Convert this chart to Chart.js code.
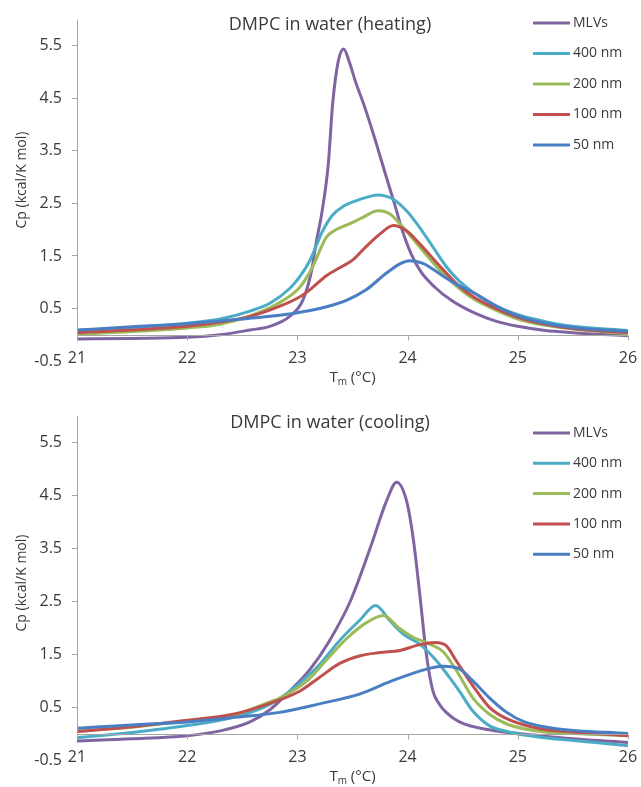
<!DOCTYPE html>
<html>
<head>
<meta charset="utf-8">
<script src="https://cdn.jsdelivr.net/npm/chart.js@4.4.0/dist/chart.umd.min.js"></script>
<style>
  body { margin: 0; background: #fff; }
  .box { width: 641px; position: relative; }
</style>
</head>
<body>
<div class="box" style="height:390px"><canvas id="heatChart" width="641" height="390"></canvas></div>
<div class="box" style="height:397px"><canvas id="coolChart" width="641" height="397"></canvas></div>
<script>
// =============================
// DATA
// =============================
const seriesNames = ["MLVs", "400 nm", "200 nm", "100 nm", "50 nm"];
const seriesColors = ["#8064A2", "#4BACC6", "#9BBB59", "#C0504D", "#4A7EC2"];
const xTickValues = [21, 22, 23, 24, 25, 26];
const yTickValues = [-0.5, 0.5, 1.5, 2.5, 3.5, 4.5, 5.5];

// heating
const heatMlvT  = [21, 21.5, 22, 22.3, 22.57, 22.75, 22.93, 23.05, 23.13, 23.17, 23.22, 23.28, 23.32, 23.37, 23.42, 23.47, 23.53, 23.6, 23.7, 23.8, 23.88, 23.95, 24.03, 24.12, 24.25, 24.4, 24.6, 24.8, 25, 25.25, 25.5, 26];
const heatMlvCp = [-0.08, -0.07, -0.05, 0.0, 0.09, 0.16, 0.35, 0.66, 1.23, 1.75, 2.3, 3.24, 4.4, 5.2, 5.44, 5.2, 4.8, 4.4, 3.75, 3.05, 2.5, 2.0, 1.55, 1.2, 0.9, 0.65, 0.42, 0.26, 0.16, 0.08, 0.04, -0.02];

const heat400T  = [21, 21.5, 22, 22.3, 22.57, 22.75, 22.93, 23.02, 23.11, 23.23, 23.32, 23.42, 23.53, 23.65, 23.73, 23.8, 23.87, 23.99, 24.11, 24.23, 24.35, 24.47, 24.6, 24.8, 25, 25.25, 25.5, 26];
const heat400Cp = [0.08, 0.14, 0.22, 0.3, 0.45, 0.6, 0.88, 1.1, 1.4, 1.98, 2.28, 2.45, 2.55, 2.63, 2.66, 2.64, 2.58, 2.36, 2.04, 1.67, 1.3, 1.02, 0.8, 0.55, 0.38, 0.25, 0.16, 0.08];

const heat200T  = [21, 21.5, 22, 22.3, 22.57, 22.81, 23.02, 23.14, 23.26, 23.35, 23.44, 23.59, 23.73, 23.84, 23.96, 24.11, 24.29, 24.47, 24.6, 24.8, 25, 25.25, 25.5, 26];
const heat200Cp = [0.01, 0.06, 0.13, 0.2, 0.36, 0.58, 0.9, 1.3, 1.85, 2.0, 2.08, 2.23, 2.36, 2.3, 2.04, 1.67, 1.23, 0.88, 0.68, 0.47, 0.3, 0.18, 0.11, 0.02];

const heat100T  = [21, 21.5, 22, 22.3, 22.57, 22.87, 23.02, 23.11, 23.26, 23.38, 23.5, 23.62, 23.75, 23.87, 23.99, 24.11, 24.26, 24.47, 24.6, 24.8, 25, 25.25, 25.5, 26];
const heat100Cp = [0.04, 0.09, 0.16, 0.24, 0.35, 0.57, 0.72, 0.85, 1.12, 1.27, 1.42, 1.67, 1.92, 2.08, 1.98, 1.73, 1.38, 0.92, 0.72, 0.5, 0.33, 0.2, 0.12, 0.04];

const heat50T  = [21, 21.5, 22, 22.45, 22.75, 23, 23.2, 23.44, 23.62, 23.8, 23.93, 24.02, 24.14, 24.32, 24.47, 24.6, 24.8, 25, 25.25, 25.5, 26];
const heat50Cp = [0.09, 0.15, 0.21, 0.29, 0.35, 0.42, 0.5, 0.65, 0.85, 1.16, 1.35, 1.41, 1.36, 1.12, 0.93, 0.8, 0.55, 0.36, 0.22, 0.14, 0.06];

// cooling
const coolMlvT  = [21, 21.5, 22, 22.3, 22.57, 22.75, 22.93, 23.11, 23.29, 23.48, 23.66, 23.81, 23.9, 23.99, 24.05, 24.11, 24.17, 24.23, 24.29, 24.35, 24.47, 24.74, 25.2, 25.5, 26];
const coolMlvCp = [-0.14, -0.1, -0.04, 0.05, 0.22, 0.45, 0.8, 1.2, 1.75, 2.5, 3.5, 4.4, 4.75, 4.4, 3.7, 2.64, 1.5, 0.8, 0.55, 0.4, 0.22, 0.07, -0.04, -0.1, -0.17];

const cool400T  = [21, 21.5, 22, 22.45, 22.75, 22.93, 23.02, 23.2, 23.38, 23.57, 23.71, 23.84, 23.96, 24.11, 24.26, 24.38, 24.47, 24.59, 24.74, 24.9, 25.2, 25.5, 26];
const cool400Cp = [-0.08, 0.02, 0.15, 0.32, 0.55, 0.8, 0.95, 1.3, 1.75, 2.15, 2.42, 2.13, 1.88, 1.69, 1.38, 1.06, 0.8, 0.43, 0.15, 0.04, -0.07, -0.13, -0.23];

const cool200T  = [21, 21.5, 22, 22.45, 22.75, 22.84, 23.08, 23.26, 23.45, 23.63, 23.78, 23.93, 24.05, 24.2, 24.32, 24.44, 24.59, 24.74, 24.9, 25.2, 25.5, 26];
const cool200Cp = [0.04, 0.12, 0.24, 0.37, 0.6, 0.67, 0.98, 1.38, 1.8, 2.1, 2.23, 1.98, 1.82, 1.69, 1.55, 1.2, 0.68, 0.37, 0.18, 0.04, 0.0, -0.04];

const cool100T  = [21, 21.5, 22, 22.45, 22.75, 23.02, 23.2, 23.38, 23.57, 23.75, 23.93, 24.11, 24.25, 24.35, 24.44, 24.59, 24.74, 24.9, 25.2, 25.5, 26];
const cool100Cp = [0.04, 0.13, 0.25, 0.38, 0.57, 0.8, 1.06, 1.32, 1.47, 1.53, 1.57, 1.68, 1.72, 1.66, 1.38, 0.91, 0.5, 0.28, 0.09, 0.03, -0.04];

const cool50T  = [21, 21.5, 22, 22.45, 22.84, 23.2, 23.57, 23.84, 24.11, 24.32, 24.47, 24.59, 24.74, 24.9, 25.06, 25.35, 26];
const cool50Cp = [0.1, 0.16, 0.22, 0.31, 0.4, 0.56, 0.75, 0.98, 1.18, 1.27, 1.22, 1.0, 0.68, 0.4, 0.22, 0.09, 0.0];

// =============================
// HELPERS
// =============================
const FONT = '"Open Sans", "DejaVu Sans", sans-serif';
const TEXT = "#3a3a3a";
const AXIS = "#a6a6a6";

function toPoints(ts, cps) {
  return ts.map((t, i) => ({ x: t, y: cps[i] }));
}

// axis lines at Cp = 0, titles and legend drawn over the plot
const decorPlugin = {
  id: "decor",
  afterDraw(chart, args, opts) {
    const ctx = chart.ctx;
    const xs = chart.scales.x;
    const ys = chart.scales.y;
    const area = chart.chartArea;
    const y0 = Math.round(ys.getPixelForValue(0)) + 0.5;
    const left = Math.round(area.left) + 0.5;

    ctx.save();
    ctx.strokeStyle = AXIS;
    ctx.lineWidth = 1;
    ctx.beginPath();
    ctx.moveTo(left, area.top);
    ctx.lineTo(left, y0);
    ctx.moveTo(left, y0);
    ctx.lineTo(area.right, y0);
    xTickValues.forEach(v => {
      const px = Math.round(xs.getPixelForValue(v)) + 0.5;
      ctx.moveTo(px, y0);
      ctx.lineTo(px, y0 + 5);
    });
    ctx.stroke();

    // title
    ctx.fillStyle = TEXT;
    ctx.font = "18px " + FONT;
    ctx.textAlign = "center";
    ctx.textBaseline = "middle";
    ctx.fillText(opts.title, opts.titleX, opts.titleY);

    // legend
    ctx.font = "14px " + FONT;
    ctx.textAlign = "left";
    seriesNames.forEach((name, i) => {
      const ly = opts.legendY + i * opts.legendStep;
      ctx.strokeStyle = seriesColors[i];
      ctx.lineWidth = 3;
      ctx.beginPath();
      ctx.moveTo(533, ly);
      ctx.lineTo(570, ly);
      ctx.stroke();
      ctx.fillStyle = TEXT;
      ctx.fillText(name, 573, ly);
    });

    // x title: T with subscript m
    const cx = (area.left + area.right) / 2;
    ctx.font = "15px " + FONT;
    const wT = ctx.measureText("T").width;
    const wRest = ctx.measureText(" (°C)").width;
    ctx.font = "10px " + FONT;
    const wM = ctx.measureText("m").width;
    const sx = cx - (wT + wM + wRest) / 2;
    ctx.font = "15px " + FONT;
    ctx.fillText("T", sx, opts.xTitleY);
    ctx.font = "10px " + FONT;
    ctx.fillText("m", sx + wT, opts.xTitleY + 4);
    ctx.font = "15px " + FONT;
    ctx.fillText(" (°C)", sx + wT + wM, opts.xTitleY);

    // y title
    ctx.translate(22, opts.yTitleY);
    ctx.rotate(-Math.PI / 2);
    ctx.textAlign = "center";
    ctx.font = "14px " + FONT;
    ctx.fillText("Cp (kcal/K mol)", 0, 0);
    ctx.restore();
  }
};

function buildChart(canvasId, pointSets, deco, padTop, xHeight) {
  const datasets = pointSets.map((pts, i) => ({
    label: seriesNames[i],
    data: pts,
    borderColor: seriesColors[i],
    backgroundColor: seriesColors[i],
    borderWidth: 3,
    pointRadius: 0,
    cubicInterpolationMode: "monotone",
    fill: false,
    order: seriesNames.length - i
  }));

  return new Chart(document.getElementById(canvasId), {
    type: "line",
    data: { datasets: datasets },
    options: {
      responsive: false,
      animation: false,
      devicePixelRatio: 1,
      layout: { padding: { left: 0, right: 13, top: padTop, bottom: 0 } },
      plugins: {
        legend: { display: false },
        title: { display: false },
        tooltip: { enabled: false },
        decor: deco
      },
      scales: {
        x: {
          type: "linear",
          min: 21,
          max: 26,
          border: { display: false },
          grid: { display: false, drawTicks: false },
          afterBuildTicks: s => { s.ticks = xTickValues.map(v => ({ value: v })); },
          afterFit: s => {
            s.height = xHeight;
            // labels sit on the plot's bottom edge, so do not clip them to the axis box
            s._computeLabelArea = () => undefined;
          },
          ticks: { color: TEXT, font: { family: FONT, size: 16 }, padding: -12, maxRotation: 0 }
        },
        y: {
          type: "linear",
          min: -0.5,
          max: 6,
          border: { display: false },
          grid: {
            drawOnChartArea: false,
            drawTicks: true,
            tickLength: 5,
            color: c => (c.tick && c.tick.value === -0.5) ? "rgba(0,0,0,0)" : AXIS
          },
          afterBuildTicks: s => { s.ticks = yTickValues.map(v => ({ value: v })); },
          afterFit: s => { s.width = 77; },
          ticks: {
            color: TEXT,
            font: { family: FONT, size: 16 },
            padding: 10,
            callback: v => v.toFixed(1)
          }
        }
      }
    },
    plugins: [decorPlugin]
  });
}

buildChart("heatChart", [
  toPoints(heatMlvT, heatMlvCp),
  toPoints(heat400T, heat400Cp),
  toPoints(heat200T, heat200Cp),
  toPoints(heat100T, heat100Cp),
  toPoints(heat50T, heat50Cp)
], {
  title: "DMPC in water (heating)", titleX: 330, titleY: 25,
  legendY: 23, legendStep: 30.5, xTitleY: 378, yTitleY: 180
}, 16, 29);

buildChart("coolChart", [
  toPoints(coolMlvT, coolMlvCp),
  toPoints(cool400T, cool400Cp),
  toPoints(cool200T, cool200Cp),
  toPoints(cool100T, cool100Cp),
  toPoints(cool50T, cool50Cp)
], {
  title: "DMPC in water (cooling)", titleX: 330, titleY: 33,
  legendY: 43, legendStep: 30.3, xTitleY: 387, yTitleY: 193
}, 26, 27);
</script>
</body>
</html>
